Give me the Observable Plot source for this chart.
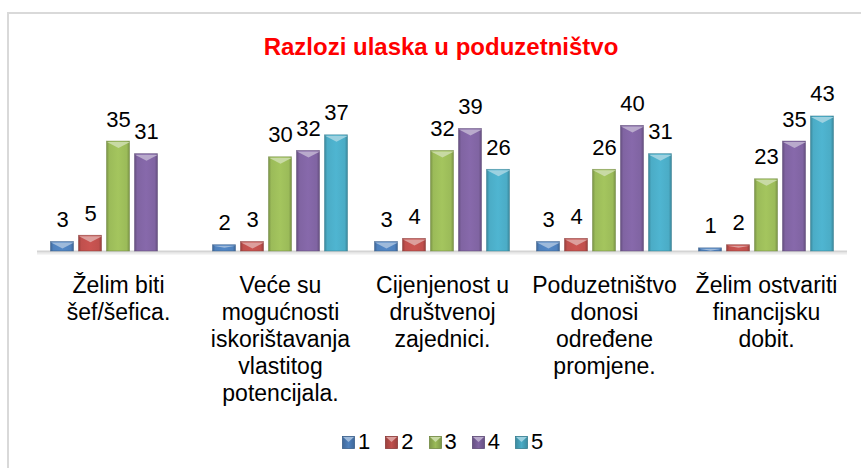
<!DOCTYPE html>
<html>
<head>
<meta charset="utf-8">
<script src="https://cdn.jsdelivr.net/npm/d3@7"></script>
<script src="https://cdn.jsdelivr.net/npm/@observablehq/plot@0.6"></script>
<style>
  html, body { margin: 0; padding: 0; background: #fff; }
  body { width: 861px; height: 468px; position: relative; overflow: hidden; font-family: "Liberation Sans", Arial, sans-serif; }
  #frame { position: absolute; left: 7px; top: 12px; width: 880px; height: 480px; border: 2px solid #d9d9d9; box-sizing: border-box; }
  #title { position: absolute; left: 0; width: 882px; top: 33px; text-align: center; color: #ff0000; font-weight: bold; font-size: 24px; line-height: 28px; }
  #chart { position: absolute; left: 0; top: 60px; }
  #legend { position: absolute; left: 342px; top: 429px; display: flex; align-items: center; font-size: 22px; color: #000; }
  #legend .item { display: flex; align-items: center; margin-right: 15px; }
  #legend svg { margin-right: 3px; }
</style>
</head>
<body>
<div id="frame"></div>
<div id="title">Razlozi ulaska u poduzetništvo</div>
<div id="chart"></div>
<div id="legend"></div>
<script>
// ---- data ----
const categories = [
  "Želim biti\nšef/šefica.",
  "Veće su\nmogućnosti\niskorištavanja\nvlastitog\npotencijala.",
  "Cijenjenost u\ndruštvenoj\nzajednici.",
  "Poduzetništvo\ndonosi\nodređene\npromjene.",
  "Želim ostvariti\nfinancijsku\ndobit."
];
const seriesNames = ["1", "2", "3", "4", "5"];
const series1 = [3, 2, 3, 3, 1];
const series2 = [5, 3, 4, 4, 2];
const series3 = [35, 30, 32, 26, 23];
const series4 = [31, 32, 39, 40, 35];
const series5 = [null, 37, 26, 31, 43];
const seriesColors = ["#4F81BD", "#C0504D", "#9BBB59", "#8064A2", "#4BACC6"];

const allSeries = [series1, series2, series3, series4, series5];
const data = [];
categories.forEach((cat, i) => {
  allSeries.forEach((vals, j) => {
    const v = vals[i];
    if (v == null) return;
    data.push({
      cat, series: seriesNames[j], value: v,
      fill: `url(#grad${j})`,
      stroke: d3.color(seriesColors[j]).darker(0.9).formatHex(),
      cap: d3.interpolateRgb(seriesColors[j], "#ffffff")(0.45)
    });
  });
});

const bevel = {
  draw(context) {
    context.moveTo(-11.5, 0.5);
    context.lineTo(11.5, 0.5);
    context.lineTo(0, 6.5);
    context.closePath();
  }
};
const bevelSmall = {
  draw(context) {
    context.moveTo(-11.5, 0.5);
    context.lineTo(11.5, 0.5);
    context.lineTo(0, 2.5);
    context.closePath();
  }
};

const chart = Plot.plot({
  width: 861,
  height: 351,
  marginTop: 34,
  marginBottom: 160,
  marginLeft: 36.5,
  marginRight: 14.5,
  style: { fontFamily: "'Liberation Sans', Arial, sans-serif", color: "#000", background: "transparent" },
  fx: { domain: categories, paddingInner: 0, paddingOuter: 0, label: null },
  x: { domain: seriesNames, paddingInner: 0.164, paddingOuter: 0.4, axis: null },
  y: { domain: [0, 50], axis: null },
  color: { type: "identity" },
  marks: [
    Plot.ruleY([0], { stroke: "#ececec", strokeWidth: 2, dy: 2 }),
    Plot.ruleY([0], { stroke: "#d4d4d4", strokeWidth: 2 }),
    Plot.barY(data, { fx: "cat", x: "series", y: "value", fill: "fill", stroke: "stroke", strokeWidth: 0.8, strokeOpacity: 0.6 }),
    Plot.dot(data, { filter: d => d.value >= 3, fx: "cat", x: "series", y: "value", symbol: bevel, fill: "cap", stroke: null }),
    Plot.dot(data, { filter: d => d.value < 3, fx: "cat", x: "series", y: "value", symbol: bevelSmall, fill: "cap", stroke: null }),
    Plot.text(data, { fx: "cat", x: "series", y: "value", text: d => String(d.value), dy: -15, lineAnchor: "bottom", fontSize: 22, fill: "#000" }),
    Plot.axisFx({ anchor: "bottom", tickSize: 0, tickPadding: 22, fontSize: 23, lineHeight: 1.174, label: null, fill: "#000" })
  ]
});

// gradient definitions
const defs = d3.select(chart).insert("defs", ":first-child");
seriesColors.forEach((c, j) => {
  const base = d3.color(c);
  const g = defs.append("linearGradient").attr("id", `grad${j}`).attr("x1", 0).attr("x2", 1).attr("y1", 0).attr("y2", 0);
  g.append("stop").attr("offset", "0%").attr("stop-color", base.darker(0.7).formatHex());
  g.append("stop").attr("offset", "12%").attr("stop-color", base.formatHex());
  g.append("stop").attr("offset", "50%").attr("stop-color", base.brighter(0.15).formatHex());
  g.append("stop").attr("offset", "88%").attr("stop-color", base.formatHex());
  g.append("stop").attr("offset", "100%").attr("stop-color", base.darker(0.7).formatHex());
});
document.getElementById("chart").appendChild(chart);

// legend
const legend = d3.select("#legend");
seriesNames.forEach((name, j) => {
  const item = legend.append("div").attr("class", "item");
  const base = d3.color(seriesColors[j]);
  const s = item.append("svg").attr("width", 13).attr("height", 13);
  const lg = s.append("defs").append("linearGradient").attr("id", `lg${j}`).attr("x1", 0).attr("x2", 1);
  lg.append("stop").attr("offset", "0%").attr("stop-color", base.darker(0.6).formatHex());
  lg.append("stop").attr("offset", "50%").attr("stop-color", base.formatHex());
  lg.append("stop").attr("offset", "100%").attr("stop-color", base.darker(0.6).formatHex());
  s.append("rect").attr("x", 0.5).attr("y", 0.5).attr("width", 12).attr("height", 12)
    .attr("fill", `url(#lg${j})`).attr("stroke", base.darker(0.9).formatHex()).attr("stroke-width", 0.8);
  s.append("polygon").attr("points", "1,1 12,1 6.5,6").attr("fill", d3.interpolateRgb(seriesColors[j], "#ffffff")(0.45));
  item.append("span").text(name);
});
</script>
</body>
</html>
